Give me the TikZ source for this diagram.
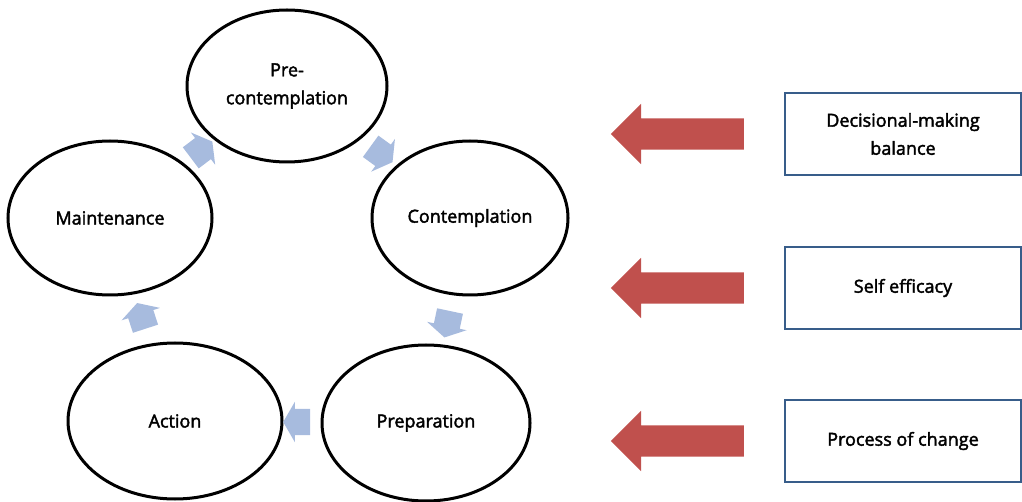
\documentclass[tikz,border=0pt]{standalone}
\usepackage{fontspec}
\setmainfont{Open Sans}[FakeBold=2.2]
\usetikzlibrary{shapes.geometric,shapes.arrows,positioning,calc}
\definecolor{cycleblue}{RGB}{167,187,222}
\definecolor{pushred}{RGB}{192,80,77}
\definecolor{boxblue}{RGB}{56,93,138}
\tikzset{stage/.style={ellipse,draw,line width=3pt,inner sep=0pt,align=center}}
\tikzset{turn/.style={single arrow,fill=cycleblue,minimum height=27pt,inner xsep=0pt,inner ysep=13pt,single arrow head extend=7pt,single arrow tip angle=120}}
\tikzset{push/.style={single arrow,fill=pushred,shape border rotate=180,minimum height=133pt,inner xsep=0pt,inner ysep=15.5pt,single arrow head extend=14.5pt,single arrow tip angle=90}}
\tikzset{factor/.style={rectangle,draw=boxblue,line width=2pt,minimum width=236pt,minimum height=82pt,align=center}}

\begin{document}
\begin{tikzpicture}[x=1pt,y=-1pt,font=\fontsize{18}{28}\selectfont]
      \useasboundingbox (0,0) rectangle (1022,502);
      % stages of change
      \node[stage,minimum width=200pt,minimum height=152pt] (pre) at (287,86) {Pre-\\contemplation};
      \node[stage,minimum width=196pt,minimum height=154pt] (cont) at (470,218) {Contemplation};
      \node[stage,minimum width=208pt,minimum height=156pt] (prep) at (426,423) {Preparation};
      \node[stage,minimum width=214pt,minimum height=156pt] (act) at (175,421) {Action};
      \node[stage,minimum width=204pt,minimum height=154pt] (maint) at (110,218) {Maintenance};
      % cycle arrows
      \node[turn,rotate=37] (t1) at ($(maint)!0.5!(pre)$) {};
      \node[turn,rotate=-36] (t2) at ($(pre)!0.5!(cont)$) {};
      \node[turn,rotate=-102] (t3) at ($(cont)!0.5!(prep)$) {};
      \node[turn,rotate=180] (t4) at ($(prep)!0.5!(act)$) {};
      \node[turn,rotate=108] (t5) at ($(act)!0.5!(maint)$) {};
      % factors
      \node[factor] (dmb) at (903,134) {Decisional-making\\balance};
      \node[factor] (se) at (903,288) {Self efficacy};
      \node[factor] (poc) at (903,441) {Process of change};
      \node[push,left=40pt of dmb] (r1) {};
      \node[push,left=40pt of se] (r2) {};
      \node[push,left=40pt of poc] (r3) {};
\end{tikzpicture}
\end{document}
